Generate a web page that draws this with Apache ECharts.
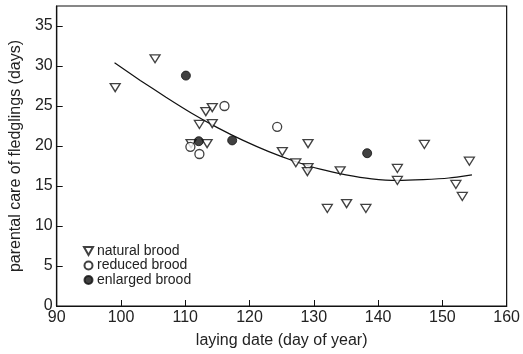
<!DOCTYPE html>
<html><head><meta charset="utf-8">
<script src="https://cdn.jsdelivr.net/npm/echarts@6/dist/echarts.min.js"></script>
<style>html,body{margin:0;padding:0;background:#fff}#c{width:523px;height:354px}</style>
</head><body><div id="c"></div>
<script>
// natural brood [laying date, days]
const naturalBrood = [
  [99.1,27.3],[105.3,30.9],[113.2,24.3],[114.2,24.8],[112.2,22.7],[114.2,22.8],
  [110.9,20.3],[113.4,20.3],[125.1,19.3],[129.1,20.3],[127.2,17.9],[129.1,17.3],
  [129.0,16.8],[134.1,16.9],[132.1,12.2],[135.1,12.8],[138.1,12.2],[143.0,17.2],
  [143.0,15.7],[147.2,20.2],[154.2,18.1],[152.1,15.2],[153.1,13.7]
];
const reducedBrood = [[116.1,25.0],[124.3,22.4],[110.8,19.9],[112.2,19.0]];
const enlargedBrood = [[110.1,28.8],[112.1,20.6],[117.3,20.7],[138.3,19.1]];
// fitted curve
const curveX = [99, 103, 107, 111, 115, 119, 123, 127, 131, 135, 139, 143, 147, 151, 154.6];
const curveY = [30.4, 28.2, 26.1, 24.1, 22.3, 20.7, 19.3, 18.1, 17.1, 16.4, 15.9, 15.7, 15.8, 16.0, 16.4];
const xTicks = [90,160,10];
const yTicks = [0,37.5,5];

const tri = 'path://M0,0L10,0L5,8.66Z';
const font = 'Liberation Sans, Arial, sans-serif';
const chart = echarts.init(document.getElementById('c'));
chart.setOption({
  animation:false,
  grid:{left:54,right:15,top:6,bottom:46,show:true,borderColor:'#111',borderWidth:1.2},
  legend:{
    left:83, top:244, orient:'vertical', itemGap:0.5, itemWidth:9, itemHeight:8, padding:0,
    textStyle:{fontFamily:font,fontSize:14,color:'#222',padding:[0,0,0,-1]},
    data:['natural brood','reduced brood','enlarged brood']
  },
  xAxis:{
    type:'value', min:xTicks[0], max:xTicks[1], interval:xTicks[2],
    name:'laying date (day of year)', nameLocation:'middle', nameGap:27,
    nameTextStyle:{fontFamily:font,fontSize:16,color:'#222'},
    axisLine:{lineStyle:{color:'#111',width:1.2}},
    axisTick:{inside:true,length:6,lineStyle:{color:'#111'}},
    axisLabel:{fontFamily:font,fontSize:16,color:'#222',margin:4},
    splitLine:{show:false}
  },
  yAxis:{
    type:'value', min:yTicks[0], max:yTicks[1], interval:yTicks[2],
    name:'parental care of fledglings (days)', nameLocation:'middle', nameGap:29,
    nameTextStyle:{fontFamily:font,fontSize:16,color:'#222'},
    axisLine:{show:true,lineStyle:{color:'#111',width:1.2}},
    axisTick:{show:true,inside:true,length:6,lineStyle:{color:'#111'}},
    axisLabel:{fontFamily:font,fontSize:16,color:'#222',margin:4,showMaxLabel:false},
    splitLine:{show:false}
  },
  series:[
    {type:'line', data:curveX.map((x,i)=>[x,curveY[i]]), smooth:0.2, symbol:'none',
     lineStyle:{color:'#111',width:1.2}, z:1, silent:true},
    {name:'natural brood', type:'scatter', data:naturalBrood, symbol:tri, symbolSize:[10,8],
     itemStyle:{color:'#fff',borderColor:'#111',borderWidth:1.3}, z:3},
    {name:'reduced brood', type:'scatter', data:reducedBrood, symbol:'circle', symbolSize:9,
     itemStyle:{color:'#fff',borderColor:'#111',borderWidth:1.3}, z:3},
    {name:'enlarged brood', type:'scatter', data:enlargedBrood, symbol:'circle', symbolSize:9,
     itemStyle:{color:'#111',borderColor:'#111',borderWidth:1}, z:4}
  ]
});
</script></body></html>
